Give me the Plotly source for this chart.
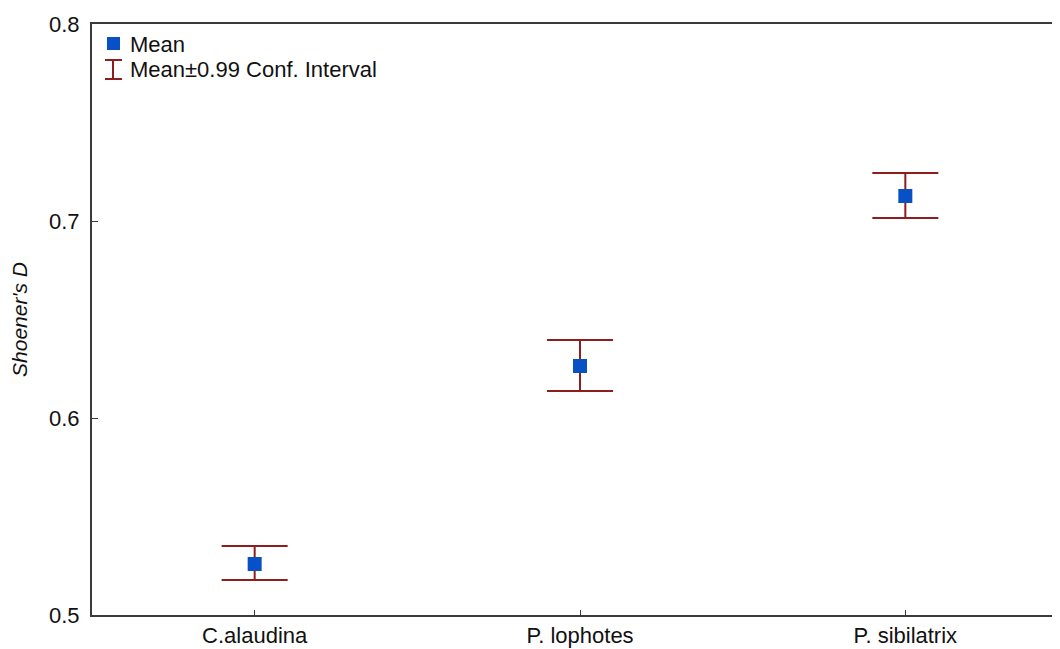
import plotly.graph_objects as go

categories = ["C.alaudina", "P. lophotes", "P. sibilatrix"]
means = [0.5259, 0.6264, 0.7127]
ci_upper = [0.5350, 0.6396, 0.7244]
ci_lower = [0.5178, 0.6137, 0.7015]
y_ticks = [0.5, 0.6, 0.7, 0.8]
y_tick_labels = ["0.5", "0.6", "0.7", "0.8"]

err_plus = [u - m for u, m in zip(ci_upper, means)]
err_minus = [m - l for m, l in zip(means, ci_lower)]

BLUE = "#0750C6"
RED = "#8E1D1D"
AXIS = "#3a3a3a"
FONT = "Liberation Sans, Arial, sans-serif"

fig = go.Figure()
fig.add_trace(go.Scatter(
    x=list(range(len(categories))), y=means, mode="markers",
    marker=dict(symbol="square", size=14, color=BLUE, line=dict(width=0)),
    error_y=dict(type="data", array=err_plus, arrayminus=err_minus,
                 color=RED, thickness=2, width=33),
    showlegend=False, name="Mean",
))

# Plot area in window pixels: x 92..1068 (runs past the window edge), y 24..615
# (page body has an 8px offset)
OFF = 8
W0, W1, H0, H1 = 92, 1068, 24, 615
def px(x):
    return (x - W0) / (W1 - W0)
def py(y):
    return (H1 - y) / (H1 - H0)

shapes = [
    dict(type="rect", xref="paper", yref="paper", x0=px(107), x1=px(120), y0=py(50), y1=py(37),
         fillcolor=BLUE, line=dict(width=0)),
    dict(type="line", xref="paper", yref="paper", x0=px(113), x1=px(113), y0=py(60), y1=py(79),
         line=dict(color=RED, width=2)),
    dict(type="line", xref="paper", yref="paper", x0=px(105), x1=px(122), y0=py(60), y1=py(60),
         line=dict(color=RED, width=2)),
    dict(type="line", xref="paper", yref="paper", x0=px(105), x1=px(122), y0=py(79), y1=py(79),
         line=dict(color=RED, width=2)),
]
annotations = [
    dict(text="Mean", xref="paper", yref="paper", x=px(128), y=py(44), xanchor="left", yanchor="middle",
         showarrow=False, font=dict(family=FONT, size=22, color="#111")),
    dict(text="Mean±0.99 Conf. Interval", xref="paper", yref="paper", x=px(128), y=py(69),
         xanchor="left", yanchor="middle", showarrow=False, font=dict(family=FONT, size=22, color="#111")),
]

fig.update_layout(
    width=1060, height=649,
    margin=dict(l=W0 - OFF, r=0, t=H0 - OFF, b=649 - (H1 - OFF), autoexpand=False),
    paper_bgcolor="white", plot_bgcolor="white",
    font=dict(family=FONT, size=22, color="#111"),
    shapes=shapes, annotations=annotations,
    xaxis=dict(
        range=[-0.5, 2.5], tickvals=list(range(len(categories))), ticktext=categories,
        showgrid=False, zeroline=False, showline=True, linecolor=AXIS, linewidth=2,
        mirror=True, ticks="inside", ticklen=5, tickwidth=1, tickcolor=AXIS,
        tickfont=dict(family=FONT, size=22, color="#111"), automargin=False,
    ),
    yaxis=dict(
        range=[0.5, 0.8], tickvals=y_ticks, ticktext=y_tick_labels,
        showgrid=False, zeroline=False, showline=True, linecolor=AXIS, linewidth=2,
        ticks="inside", ticklen=6, tickwidth=1, tickcolor=AXIS, ticklabelstandoff=6,
        tickfont=dict(family=FONT, size=22, color="#111"), automargin=False,
        title=dict(text="<i>Shoener's D</i>", font=dict(family=FONT, size=21, color="#111"), standoff=22),
    ),
)

fig.write_html("out.html")
